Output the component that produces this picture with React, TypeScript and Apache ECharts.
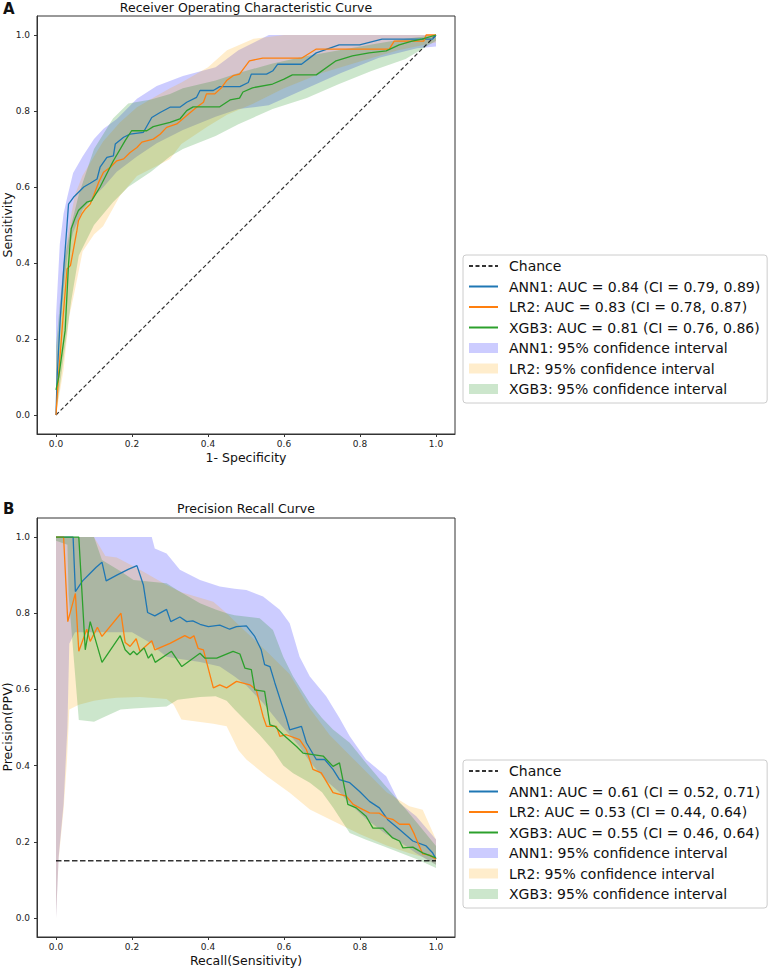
import React, { useEffect, useRef } from "react";
import * as echarts from "echarts";

const FONT = "DejaVu Sans";

// ---------- Panel A : ROC ----------
const rocTicks = [0, 0.2, 0.4, 0.6, 0.8, 1.0];
const rocChance: [number, number][] = [[0, 0], [1, 1]];
const rocANN1: [number, number][] = [[0,0],[0.003,0.1],[0.011,0.25],[0.02,0.38],[0.029,0.5],[0.033,0.555],[0.046,0.573],[0.06,0.587],[0.073,0.6],[0.09,0.61],[0.108,0.621],[0.116,0.652],[0.134,0.678],[0.151,0.682],[0.156,0.713],[0.178,0.731],[0.195,0.739],[0.23,0.744],[0.252,0.783],[0.274,0.796],[0.3,0.81],[0.326,0.81],[0.344,0.823],[0.37,0.836],[0.379,0.854],[0.414,0.854],[0.431,0.864],[0.484,0.864],[0.506,0.875],[0.514,0.897],[0.554,0.897],[0.571,0.906],[0.583,0.923],[0.646,0.923],[0.685,0.953],[0.745,0.974],[0.799,0.974],[0.858,0.989],[0.991,0.989],[1,1]];
const rocLR2: [number, number][] = [[0,0],[0.007,0.108],[0.018,0.25],[0.029,0.384],[0.038,0.393],[0.055,0.485],[0.059,0.511],[0.068,0.529],[0.077,0.542],[0.09,0.555],[0.099,0.577],[0.112,0.612],[0.125,0.639],[0.143,0.652],[0.16,0.669],[0.178,0.674],[0.195,0.691],[0.213,0.704],[0.226,0.718],[0.256,0.726],[0.274,0.739],[0.291,0.757],[0.318,0.766],[0.344,0.788],[0.37,0.81],[0.388,0.823],[0.396,0.845],[0.418,0.845],[0.436,0.862],[0.449,0.88],[0.466,0.893],[0.483,0.897],[0.509,0.932],[0.544,0.939],[0.646,0.939],[0.685,0.963],[0.877,0.963],[0.89,0.984],[0.968,0.984],[0.974,1],[1,1]];
const rocXGB3: [number, number][] = [[0,0.066],[0.007,0.099],[0.024,0.222],[0.033,0.397],[0.04,0.49],[0.051,0.52],[0.059,0.538],[0.081,0.56],[0.094,0.564],[0.116,0.6],[0.151,0.669],[0.182,0.722],[0.199,0.748],[0.239,0.748],[0.256,0.759],[0.3,0.77],[0.326,0.779],[0.344,0.801],[0.361,0.811],[0.431,0.811],[0.458,0.829],[0.483,0.834],[0.492,0.85],[0.517,0.861],[0.57,0.871],[0.6,0.884],[0.622,0.895],[0.685,0.895],[0.737,0.932],[0.78,0.945],[0.824,0.953],[0.869,0.958],[0.903,0.974],[0.937,0.984],[0.963,0.989],[1,1]];
// [x, lower, upper]
const rocANN1CI: [number, number, number][] = [[0,0.08,0.26],[0.01,0.22,0.45],[0.02,0.33,0.53],[0.03,0.42,0.575],[0.045,0.48,0.637],[0.07,0.54,0.68],[0.1,0.575,0.726],[0.125,0.6,0.753],[0.16,0.64,0.779],[0.213,0.68,0.832],[0.265,0.715,0.866],[0.334,0.75,0.892],[0.42,0.785,0.915],[0.48,0.805,0.96],[0.56,0.815,1],[0.66,0.86,1],[0.75,0.9,1],[0.85,0.94,1],[0.95,0.965,1],[1,0.97,1]];
const rocLR2CI: [number, number, number][] = [[0,0,0.12],[0.02,0.12,0.4],[0.035,0.26,0.5],[0.05,0.33,0.58],[0.07,0.43,0.63],[0.1,0.475,0.68],[0.124,0.497,0.72],[0.168,0.576,0.77],[0.213,0.629,0.81],[0.265,0.655,0.84],[0.3,0.674,0.86],[0.33,0.713,0.875],[0.4,0.76,0.915],[0.45,0.79,0.96],[0.52,0.82,0.99],[0.6,0.86,1],[0.7,0.9,1],[0.8,0.93,1],[0.9,0.96,1],[1,0.98,1]];
const rocXGB3CI: [number, number, number][] = [[0,0,0.18],[0.02,0.15,0.4],[0.04,0.3,0.5],[0.06,0.42,0.58],[0.1,0.5,0.7],[0.15,0.56,0.78],[0.19,0.6,0.82],[0.25,0.64,0.83],[0.3,0.68,0.845],[0.334,0.7,0.86],[0.42,0.734,0.88],[0.48,0.765,0.9],[0.57,0.805,0.925],[0.66,0.834,0.945],[0.745,0.871,0.96],[0.83,0.905,0.975],[0.92,0.937,0.99],[1,0.985,1]];

// ---------- Panel B : PR ----------
const prTicks = [0, 0.2, 0.4, 0.6, 0.8, 1.0];
const prChance: [number, number][] = [[0, 0.15], [1, 0.15]];
const prANN1: [number, number][] = [[0,1],[0.045,1],[0.051,0.857],[0.07,0.885],[0.09,0.905],[0.105,0.92],[0.121,0.934],[0.132,0.885],[0.16,0.9],[0.19,0.915],[0.213,0.925],[0.23,0.874],[0.241,0.802],[0.26,0.793],[0.291,0.81],[0.302,0.778],[0.326,0.79],[0.344,0.778],[0.36,0.78],[0.379,0.771],[0.401,0.765],[0.431,0.769],[0.457,0.758],[0.475,0.765],[0.501,0.767],[0.523,0.739],[0.54,0.704],[0.549,0.665],[0.563,0.66],[0.576,0.617],[0.593,0.564],[0.606,0.525],[0.615,0.494],[0.646,0.503],[0.659,0.46],[0.685,0.416],[0.707,0.416],[0.729,0.39],[0.746,0.363],[0.773,0.355],[0.799,0.332],[0.825,0.306],[0.851,0.289],[0.873,0.258],[0.904,0.232],[0.939,0.202],[0.974,0.189],[0.991,0.171],[1,0.155]];
const prLR2: [number, number][] = [[0,1],[0.02,1],[0.031,0.778],[0.051,0.852],[0.06,0.7],[0.081,0.758],[0.09,0.726],[0.109,0.763],[0.121,0.739],[0.171,0.8],[0.182,0.723],[0.195,0.713],[0.211,0.733],[0.221,0.7],[0.252,0.728],[0.26,0.704],[0.3,0.721],[0.339,0.741],[0.353,0.734],[0.363,0.741],[0.374,0.708],[0.388,0.704],[0.414,0.604],[0.431,0.612],[0.449,0.604],[0.475,0.621],[0.51,0.612],[0.527,0.599],[0.545,0.529],[0.554,0.503],[0.58,0.503],[0.589,0.477],[0.606,0.481],[0.641,0.468],[0.659,0.442],[0.676,0.39],[0.698,0.381],[0.729,0.329],[0.764,0.32],[0.782,0.298],[0.799,0.289],[0.825,0.276],[0.851,0.275],[0.869,0.263],[0.886,0.259],[0.904,0.246],[0.93,0.246],[0.943,0.22],[0.952,0.198],[0.965,0.168],[0.983,0.165],[1,0.154]];
const prXGB3: [number, number][] = [[0,1],[0.06,1],[0.077,0.704],[0.09,0.778],[0.121,0.671],[0.169,0.741],[0.182,0.704],[0.195,0.691],[0.204,0.7],[0.213,0.691],[0.232,0.709],[0.243,0.682],[0.252,0.693],[0.261,0.671],[0.304,0.7],[0.331,0.66],[0.379,0.695],[0.392,0.682],[0.423,0.682],[0.466,0.7],[0.484,0.693],[0.497,0.656],[0.514,0.652],[0.523,0.599],[0.549,0.595],[0.563,0.507],[0.576,0.503],[0.598,0.481],[0.633,0.45],[0.65,0.433],[0.676,0.429],[0.703,0.425],[0.729,0.398],[0.746,0.407],[0.768,0.298],[0.79,0.289],[0.816,0.267],[0.834,0.236],[0.86,0.236],[0.886,0.21],[0.904,0.202],[0.913,0.184],[0.939,0.186],[0.965,0.171],[1,0.158]];
const prANN1CI: [number, number, number][] = [[0,0,1],[0.007,0.16,1],[0.02,0.3,1],[0.03,0.5,1],[0.035,0.72,1],[0.05,0.75,1],[0.2,0.75,1],[0.252,0.72,1],[0.26,0.71,0.97],[0.291,0.686,0.957],[0.326,0.68,0.914],[0.379,0.672,0.887],[0.431,0.66,0.87],[0.47,0.634,0.864],[0.501,0.61,0.861],[0.545,0.564,0.844],[0.589,0.51,0.809],[0.615,0.48,0.774],[0.641,0.45,0.686],[0.668,0.41,0.634],[0.711,0.36,0.582],[0.746,0.33,0.525],[0.773,0.3,0.477],[0.816,0.26,0.416],[0.869,0.22,0.372],[0.904,0.2,0.302],[0.948,0.17,0.267],[1,0.14,0.206]];
const prLR2CI: [number, number, number][] = [[0,0,1],[0.007,0.155,1],[0.02,0.285,1],[0.029,0.416,1],[0.035,0.547,1],[0.06,0.56,1],[0.1,0.57,1],[0.13,0.575,0.95],[0.16,0.578,0.946],[0.221,0.58,0.914],[0.291,0.575,0.874],[0.31,0.56,0.865],[0.33,0.521,0.855],[0.414,0.51,0.83],[0.449,0.503,0.8],[0.48,0.44,0.77],[0.501,0.416,0.75],[0.554,0.373,0.7],[0.615,0.329,0.64],[0.668,0.285,0.55],[0.72,0.259,0.48],[0.8,0.22,0.4],[0.87,0.19,0.33],[0.93,0.17,0.293],[0.965,0.16,0.284],[1,0.14,0.206]];
const prXGB3CI: [number, number, number][] = [[0,0.99,1],[0.03,0.98,1],[0.033,0.85,1],[0.06,0.52,1],[0.1,0.515,1],[0.121,0.525,0.94],[0.17,0.547,0.91],[0.204,0.55,0.887],[0.291,0.555,0.879],[0.32,0.573,0.86],[0.379,0.58,0.826],[0.42,0.582,0.81],[0.449,0.57,0.8],[0.47,0.547,0.795],[0.536,0.48,0.787],[0.571,0.44,0.756],[0.598,0.4,0.686],[0.624,0.38,0.634],[0.668,0.355,0.564],[0.7,0.33,0.525],[0.729,0.29,0.495],[0.773,0.223,0.46],[0.816,0.205,0.407],[0.86,0.189,0.355],[0.921,0.165,0.285],[0.95,0.154,0.25],[1,0.131,0.189]];

const rocNames = [
  "Chance",
  "ANN1: AUC = 0.84 (CI = 0.79, 0.89)",
  "LR2: AUC = 0.83 (CI = 0.78, 0.87)",
  "XGB3: AUC = 0.81 (CI = 0.76, 0.86)",
];
const prNames = [
  "Chance",
  "ANN1: AUC = 0.61 (CI = 0.52, 0.71)",
  "LR2: AUC = 0.53 (CI = 0.44, 0.64)",
  "XGB3: AUC = 0.55 (CI = 0.46, 0.64)",
];
const ciNames = [
  "ANN1: 95% confidence interval",
  "LR2: 95% confidence interval",
  "XGB3: 95% confidence interval",
];

const lineColors = ["#1f77b4", "#ff7f0e", "#2ca02c"];
const ciColors = ["rgba(0,0,255,0.2)", "rgba(255,165,0,0.2)", "rgba(0,128,0,0.2)"];

function bandSeries(name: string, data: [number, number, number][], color: string, idx: number) {
  return {
    type: "custom",
    name,
    xAxisIndex: idx,
    yAxisIndex: idx,
    data,
    encode: { x: 0, y: [1, 2] },
    itemStyle: { color },
    silent: true,
    z: 1,
    renderItem: (params: any, api: any) => {
      if (params.dataIndex !== 0) return null;
      const lo = data.map((d) => api.coord([d[0], d[1]]));
      const hi = data.map((d) => api.coord([d[0], d[2]])).reverse();
      return {
        type: "polygon",
        shape: { points: lo.concat(hi) },
        style: { fill: color, stroke: null },
      };
    },
  };
}

function lineSeries(name: string, data: [number, number][], color: string, idx: number, dashed = false) {
  return {
    type: "line",
    name,
    xAxisIndex: idx,
    yAxisIndex: idx,
    data,
    symbol: "none",
    showSymbol: false,
    z: 3,
    lineStyle: dashed
      ? { color: "rgba(0,0,0,0.8)", width: idx === 0 ? 1.2 : 1.4, type: idx === 0 ? [4, 2.5] : [5.5, 2.5] }
      : { color, width: 1.3 },
    itemStyle: { color: dashed ? "rgba(0,0,0,0.8)" : color },
  };
}

function axisX(idx: number, ticks: number[]) {
  return {
    type: "value",
    gridIndex: idx,
    min: -0.05,
    max: 1.05,
    axisLine: { show: true, onZero: false, lineStyle: { color: "#333", width: 1 } },
    axisTick: { show: true, length: 3, customValues: ticks, lineStyle: { color: "#333" } },
    axisLabel: {
      customValues: ticks,
      margin: 5,
      fontFamily: FONT,
      fontSize: 9,
      color: "#222",
      formatter: (v: number) => v.toFixed(1),
    },
    splitLine: { show: false },
  };
}

function axisY(idx: number, ticks: number[]) {
  return {
    type: "value",
    gridIndex: idx,
    min: -0.05,
    max: 1.05,
    axisLine: { show: true, onZero: false, lineStyle: { color: "#333", width: 1 } },
    axisTick: { show: true, length: 3, customValues: ticks, lineStyle: { color: "#333" } },
    axisLabel: {
      customValues: ticks,
      margin: 7,
      fontFamily: FONT,
      fontSize: 9,
      color: "#222",
      formatter: (v: number) => v.toFixed(1),
    },
    splitLine: { show: false },
  };
}

function legendFor(names: string[], top: number) {
  return {
    orient: "vertical",
    left: 463,
    top,
    padding: [3, 7, 6, 5],
    itemWidth: 29,
    itemHeight: 10,
    itemGap: 4.5,
    backgroundColor: "#fff",
    borderColor: "#cccccc",
    borderWidth: 1,
    borderRadius: 3,
    selectedMode: false,
    textStyle: {
      fontFamily: FONT,
      fontSize: 14,
      lineHeight: 16,
      color: "#111",
      padding: [0, 0, 0, 6],
    },
    data: [
      ...names.map((n) => ({ name: n, itemStyle: { opacity: 0 } })),
      ...ciNames.map((n) => ({ name: n, icon: "rect" })),
    ],
  };
}

function textEl(text: string, x: number, y: number, size: number, bold = false, align = "center", rotation = 0) {
  return {
    type: "text",
    x,
    y,
    rotation,
    silent: true,
    style: {
      text,
      fill: "#111",
      font: `${bold ? "bold " : ""}${size}px '${FONT}'`,
      align,
      textAlign: align,
      verticalAlign: "middle",
      textVerticalAlign: "middle",
    },
  };
}

export default function App() {
  const ref = useRef<HTMLDivElement>(null);
  useEffect(() => {
    if (!ref.current) return;
    const chart = echarts.init(ref.current, undefined, { renderer: "svg" });
    const rocLines = [rocANN1, rocLR2, rocXGB3];
    const prLines = [prANN1, prLR2, prXGB3];
    const rocCIs = [rocANN1CI, rocLR2CI, rocXGB3CI];
    const prCIs = [prANN1CI, prLR2CI, prXGB3CI];
    const series: any[] = [];
    rocCIs.forEach((d, i) => series.push(bandSeries(ciNames[i], d, ciColors[i], 0)));
    prCIs.forEach((d, i) => series.push(bandSeries(ciNames[i], d, ciColors[i], 1)));
    series.push(lineSeries(rocNames[0], rocChance, "#000", 0, true));
    series.push(lineSeries(prNames[0], prChance, "#000", 1, true));
    rocLines.forEach((d, i) => series.push(lineSeries(rocNames[i + 1], d, lineColors[i], 0)));
    prLines.forEach((d, i) => series.push(lineSeries(prNames[i + 1], d, lineColors[i], 1)));

    chart.setOption({
      animation: false,
      backgroundColor: "#fff",
      textStyle: { fontFamily: FONT },
      grid: [
        { left: 37, top: 16, width: 418, height: 418, show: true, borderColor: "#333", borderWidth: 1, backgroundColor: "transparent" },
        { left: 37, top: 518, width: 418, height: 419, show: true, borderColor: "#333", borderWidth: 1, backgroundColor: "transparent" },
      ],
      xAxis: [axisX(0, rocTicks), axisX(1, prTicks)],
      yAxis: [axisY(0, rocTicks), axisY(1, prTicks)],
      legend: [legendFor(rocNames, 255), legendFor(prNames, 760)],
      graphic: [
        textEl("A", 3, 9, 15, true, "left"),
        textEl("Receiver Operating Characteristic Curve", 246, 7, 12.5),
        textEl("1- Specificity", 246, 457.5, 12.5),
        textEl("Sensitivity", 7, 225, 12.5, false, "center", Math.PI / 2),
        textEl("B", 3, 509, 15, true, "left"),
        textEl("Precision Recall Curve", 246, 508, 12.5),
        textEl("Recall(Sensitivity)", 246, 960, 12.5),
        textEl("Precision(PPV)", 7, 727, 12.5, false, "center", Math.PI / 2),
      ],
      series,
    });
    return () => chart.dispose();
  }, []);
  return (
    <div
      ref={ref}
      style={{ position: "absolute", left: 0, top: 0, width: 770, height: 968 }}
    />
  );
}
